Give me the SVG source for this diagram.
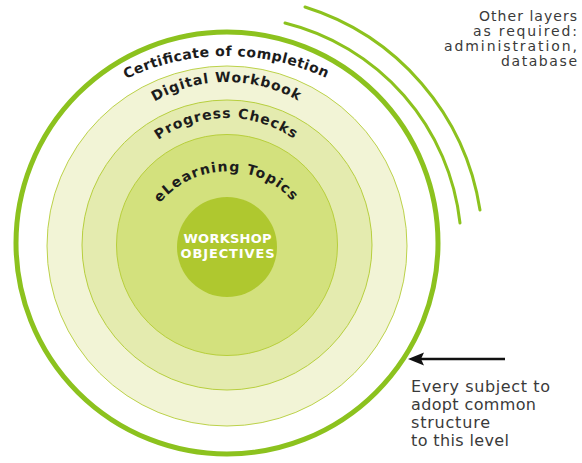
<svg xmlns="http://www.w3.org/2000/svg" width="582" height="463" viewBox="0 0 582 463">
<style>
.ring{fill:none;stroke:#8cc21e;stroke-width:5}
.arc{fill:none;stroke:#8cc21e;stroke-width:3;stroke-linecap:round}
.lbl{font-family:"DejaVu Sans",Verdana,sans-serif;font-weight:bold;font-size:14px;fill:#1c1c1c}
.ctr{font-family:"DejaVu Sans",Verdana,sans-serif;font-weight:bold;font-size:13px;fill:#ffffff;text-anchor:middle}
.note{font-family:"DejaVu Sans",Verdana,sans-serif;font-size:14px;fill:#3a3a3a}
.note2{font-family:"DejaVu Sans",Verdana,sans-serif;font-size:16px;fill:#3a3a3a}
</style>
<defs>
<path id="pCert" d="M 126 79 A 233 233 0 0 1 328 79"/>
<path id="pDig" d="M 154.5 101.7 A 143 143 0 0 1 299.5 101.7"/>
<path id="pProg" d="M 158.5 140 A 117.6 117.6 0 0 1 295.5 140"/>
<path id="pLearn" d="M 160 203 A 87 87 0 0 1 294 203"/>
</defs>
<rect width="582" height="463" fill="#ffffff"/>
<g id="other-layers">
<path class="arc" d="M 285 23 A 232 232 0 0 1 460 223"/>
<path class="arc" d="M 305 7 A 253 253 0 0 1 480 210"/>
<text class="note" text-anchor="end" x="577" y="21" textLength="98">Other layers</text>
<text class="note" text-anchor="end" x="577" y="36" textLength="104">as required:</text>
<text class="note" text-anchor="end" x="577" y="51" textLength="133">administration,</text>
<text class="note" text-anchor="end" x="577" y="66" textLength="76">database</text>
</g>
<g id="certificate">
<circle class="ring" cx="227" cy="243" r="211"/>
<text class="lbl"><textPath href="#pCert" textLength="207" lengthAdjust="spacing">Certificate of completion</textPath></text>
</g>
<g id="digital-workbook">
<circle cx="227" cy="246" r="180" fill="#f2f4d6" stroke="#bcd24a" stroke-width="1"/>
<text class="lbl"><textPath href="#pDig" textLength="150" lengthAdjust="spacing">Digital Workbook</textPath></text>
</g>
<g id="progress-checks">
<circle cx="227" cy="245" r="145" fill="#e4ebaf" stroke="#b7cf3e" stroke-width="1"/>
<text class="lbl"><textPath href="#pProg" textLength="144" lengthAdjust="spacing">Progress Checks</textPath></text>
</g>
<g id="elearning-topics">
<circle cx="227" cy="245" r="110.5" fill="#d3e17d" stroke="#b8cf3c" stroke-width="1"/>
<text class="lbl"><textPath href="#pLearn" textLength="150" lengthAdjust="spacing">eLearning Topics</textPath></text>
</g>
<g id="workshop-objectives">
<circle cx="227" cy="247" r="50" fill="#afc82f"/>
<text class="ctr" x="227.5" y="243" textLength="88">WORKSHOP</text>
<text class="ctr" x="227.5" y="258" textLength="94">OBJECTIVES</text>
</g>
<g id="connectors">
<line x1="505" y1="359" x2="420" y2="359" stroke="#111" stroke-width="2.6"/>
<polygon points="408,359 424,352.5 421,359 424,365.5" fill="#111"/>
</g>
<g id="note-common">
<text class="note2" x="411" y="392" textLength="139">Every subject to</text>
<text class="note2" x="411" y="410" textLength="125">adopt common</text>
<text class="note2" x="411" y="428" textLength="79">structure</text>
<text class="note2" x="411" y="446" textLength="98">to this level</text>
</g>
</svg>
